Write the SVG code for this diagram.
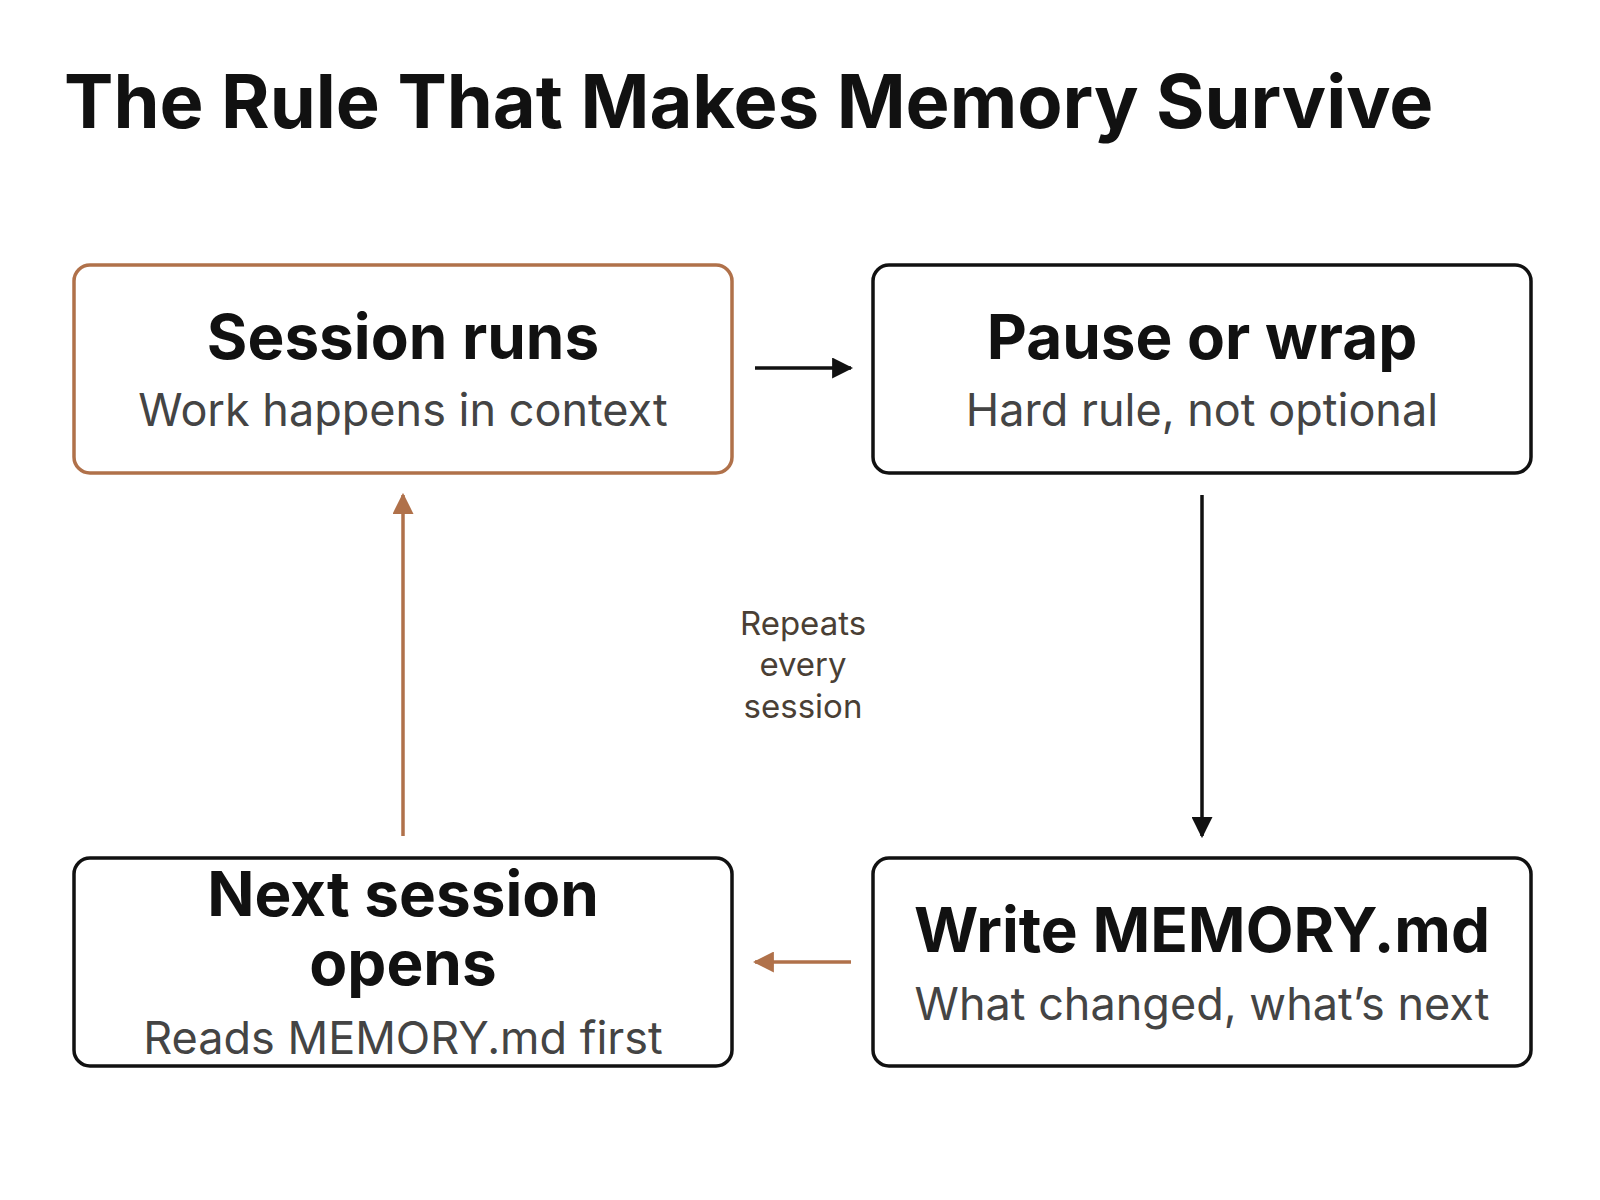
<svg xmlns="http://www.w3.org/2000/svg" width="1600" height="1200" viewBox="0 0 1600 1200">
<defs>
<style>
.box{fill:#fff;stroke:#111;stroke-width:3.5}
.brown{stroke:#B0714A}
.t{font-family:Inter,"Noto Sans",sans-serif;font-weight:700;font-size:62px;fill:#111;text-anchor:middle}
.s{font-family:Inter,"Noto Sans",sans-serif;font-size:45px;fill:#444;text-anchor:middle}
.c{font-family:Inter,"Noto Sans",sans-serif;font-size:33px;fill:#4a3f35;text-anchor:middle}
.ln{stroke-width:3.5;fill:none}
</style>
<marker id="ak" viewBox="0 0 10 10" refX="9" refY="5" markerWidth="6" markerHeight="6" orient="auto"><path d="M0,0L10,5L0,10z" fill="#111"/></marker>
<marker id="ab" viewBox="0 0 10 10" refX="9" refY="5" markerWidth="6" markerHeight="6" orient="auto"><path d="M0,0L10,5L0,10z" fill="#B0714A"/></marker>
</defs>
<rect width="1600" height="1200" fill="#fff"/>
<text x="64" y="128" font-family="Inter,'Noto Sans',sans-serif" font-weight="700" font-size="74" fill="#111">The Rule That Makes Memory Survive</text>
<g id="n1"><rect class="box brown" x="74" y="265" width="658" height="208" rx="16"/><text class="t" x="403" y="359">Session runs</text><text class="s" x="403" y="426">Work happens in context</text></g>
<g id="n2"><rect class="box" x="873" y="265" width="658" height="208" rx="16"/><text class="t" x="1202" y="359">Pause or wrap</text><text class="s" x="1202" y="426">Hard rule, not optional</text></g>
<g id="n3"><rect class="box" x="873" y="858" width="658" height="208" rx="16"/><text class="t" x="1202" y="952">Write MEMORY.md</text><text class="s" x="1202" y="1020">What changed, what’s next</text></g>
<g id="n4"><rect class="box" x="74" y="858" width="658" height="208" rx="16"/><text class="t" x="403" y="916">Next session</text><text class="t" x="403" y="985">opens</text><text class="s" x="403" y="1054">Reads MEMORY.md first</text></g>
<g id="connectors">
<line class="ln" stroke="#111" x1="755" y1="368" x2="851" y2="368" marker-end="url(#ak)"/>
<line class="ln" stroke="#111" x1="1202" y1="495" x2="1202" y2="836" marker-end="url(#ak)"/>
<line class="ln" stroke="#B0714A" x1="851" y1="962" x2="755" y2="962" marker-end="url(#ab)"/>
<line class="ln" stroke="#B0714A" x1="403" y1="836" x2="403" y2="495" marker-end="url(#ab)"/>
</g>
<g id="label"><text class="c" x="803" y="635">Repeats</text><text class="c" x="803" y="676">every</text><text class="c" x="803" y="718">session</text></g>
</svg>
